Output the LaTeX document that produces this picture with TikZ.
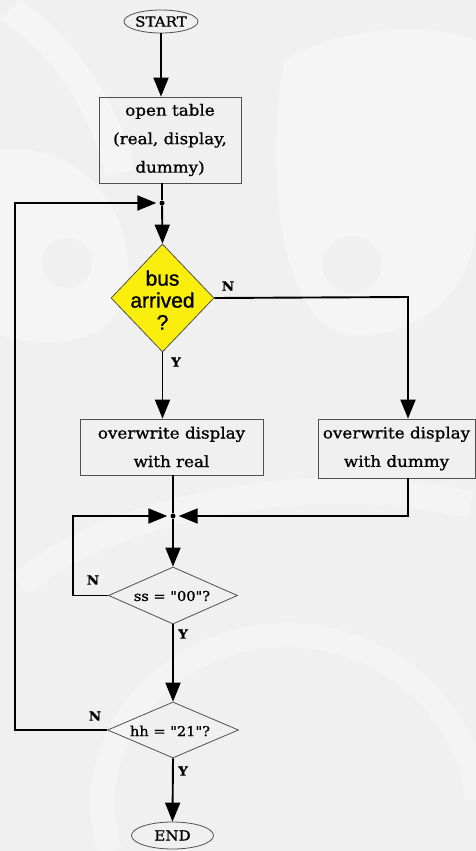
\documentclass[tikz,border=0pt]{standalone}
\usepackage{fontspec}
\setmainfont{DejaVu Serif}[FakeStretch=1.08,FakeBold=1]
\newfontfamily\plainfont{DejaVu Serif}[FakeStretch=1.08,FakeBold=1,Ligatures=TeXOff]
\newfontfamily\qfont{Liberation Sans}[FakeBold=1]
\usetikzlibrary{shapes.geometric,arrows.meta}
\definecolor{bg}{RGB}{240,240,240}
\definecolor{qyellow}{RGB}{250,238,12}
\definecolor{edge}{RGB}{80,80,80}
\begin{document}
\begin{tikzpicture}[x=1pt,y=-1pt,
  flow/.style={line width=1.9pt,draw=black},
  arr/.style={flow,-{Triangle[length=19pt,width=15pt]}},
  proc/.style={draw=edge,line width=0.8pt,align=center,inner sep=0pt,
    font=\fontsize{15.5}{28.5}\selectfont},
  term/.style={ellipse,draw=edge,line width=0.8pt,inner sep=0pt,
    font=\fontsize{14}{16}\selectfont},
  decision/.style={diamond,draw=edge,line width=0.8pt,inner sep=0pt},
  dtext/.style={align=center,font=\plainfont\fontsize{13.5}{15}\selectfont},
  yn/.style={font=\bfseries\fontsize{12.5}{14}\selectfont},
  dot/.style={circle,fill=black,inner sep=0pt,minimum size=5pt},
  emblem/.style={fill=white,opacity=0.35,draw=none}]
\useasboundingbox[fill=bg] (0,0) rectangle (476,851);

% faint background emblem
\fill[emblem] (0,150) .. controls (70,140) and (135,200) .. (128,285)
  .. controls (120,345) and (50,350) .. (0,335) -- cycle;
\fill[bg] (67,263) circle (25);
\fill[emblem] (285,60) .. controls (265,150) and (275,330) .. (352,335)
  .. controls (430,338) and (476,280) .. (476,220) -- (476,40)
  .. controls (420,20) and (330,30) .. (285,60) -- cycle;
\fill[bg] (352,265) circle (29);
\fill[emblem] (20,0) .. controls (80,40) and (120,110) .. (135,170)
  -- (105,175) .. controls (90,110) and (50,50) .. (0,20) -- cycle;
\draw[white,opacity=0.32,line width=26pt] (20,585) .. controls (120,500) and (330,470) .. (470,505);
\draw[white,opacity=0.32,line width=24pt] (110,851) .. controls (70,720) and (200,610) .. (330,640)
  .. controls (420,660) and (476,740) .. (476,800);

% nodes
\node[term,minimum width=74pt,minimum height=23pt] (start) at (161,21.5) {START};
\node[proc,minimum width=142pt,minimum height=86pt] (table) at (170,140)
  {open table\\(real, display,\\dummy)};
\node[decision,fill=qyellow,minimum width=103pt,minimum height=108pt] (q1) at (162.5,298) {};
\node[align=center,font=\qfont\fontsize{21}{22}\selectfont] (q1t) at (162.5,300) {bus\\arrived\\?};
\node[proc,minimum width=183pt,minimum height=56pt] (lb) at (171.5,447)
  {overwrite display\\with real};
\node[proc,minimum width=157pt,minimum height=59pt] (rb) at (396.5,448.5)
  {overwrite display\\with dummy};
\node[decision,minimum width=129pt,minimum height=57pt] (ss) at (173,595.5) {};
\node[dtext] (sst) at (172,596) {ss = "00"?};
\node[decision,minimum width=131pt,minimum height=56pt] (hh) at (173,730) {};
\node[dtext] (hht) at (170,731) {hh = "21"?};
\node[term,minimum width=82pt,minimum height=27pt] (end) at (172.5,835.5) {END};

% junctions and bends
\node[dot] (j1) at (162,203) {};
\node[dot] (j2) at (173,516) {};
\coordinate (fb) at (15,203);
\coordinate (rx) at (408,297);
\coordinate (lx) at (73,516);

% connectors
\draw[arr] (start.south) -- (start.south |- table.north);
\draw[flow] (j1 |- table.south) -- (j1);
\draw[arr] (j1) -- (q1.north);
\draw[arr,shorten >=3pt] (hh.west) -- (hh.west -| fb) -- (fb) -- (j1);
\draw[arr] (q1.east) -- (rx) -- (rx |- rb.north);
\draw[arr] (q1.south) -- (q1.south |- lb.north);
\draw[flow] (j2 |- lb.south) -- (j2);
\draw[arr,shorten >=3pt] (rx |- rb.south) -- (rx |- j2) -- (j2);
\draw[arr,shorten >=3pt] (ss.west) -- (ss.west -| lx) -- (lx) -- (j2);
\draw[arr] (j2) -- (ss.north);
\draw[arr] (ss.south) -- (hh.north);
\draw[arr] (hh.south) -- (end.north);

% branch labels
\node[yn] (n1) at (228,286) {N};
\node[yn] (y1) at (176,362) {Y};
\node[yn] (n2) at (93,580) {N};
\node[yn] (y2) at (183,634) {Y};
\node[yn] (n3) at (95,716) {N};
\node[yn] (y3) at (183,771) {Y};
\end{tikzpicture}
\end{document}
